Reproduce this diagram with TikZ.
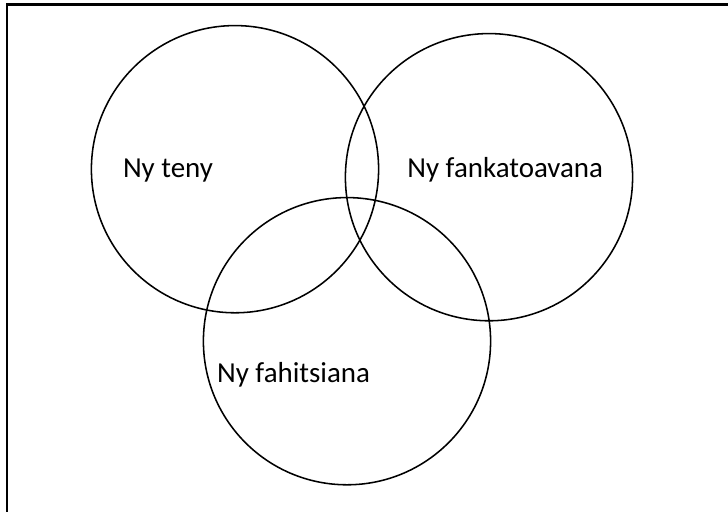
\documentclass[tikz,border=0pt]{standalone}
\usepackage{fontspec}
\setmainfont{Carlito}
\usetikzlibrary{positioning}
\definecolor{ink}{HTML}{000000}
\tikzset{
  ring/.style  ={draw=ink, line width=1.1pt, circle, minimum size=7.18cm, inner sep=0pt},
  label/.style ={font=\fontsize{20.6}{22}\selectfont, text=ink, inner sep=0pt, anchor=base},
  frame/.style ={draw=ink, line width=1.6pt}
}
\begin{document}
\begin{tikzpicture}
  \useasboundingbox (0,0) rectangle (18.2,12.8);
  % outer frame, top and left only
  \coordinate (tl) at (0.17,12.69);
  \coordinate (tr) at (18.2,12.69);
  \coordinate (bl) at (0.17,0);
  \draw[frame] (tr) -- (tl) -- (bl);

  \node[ring] (teny)  at (5.875,8.57)  {};
  \node[ring] (fank)  at (12.225,8.37) {};
  \node[ring] (fahi)  at (8.675,4.27)  {};

  \node[label] (tenyl) at (4.2,8.35)   {Ny teny};
  \node[label] (fankl) at (12.63,8.37) {Ny fankatoavana};
  \node[label] (fahil) at (7.34,3.23)  {Ny fahitsiana};
\end{tikzpicture}
\end{document}
